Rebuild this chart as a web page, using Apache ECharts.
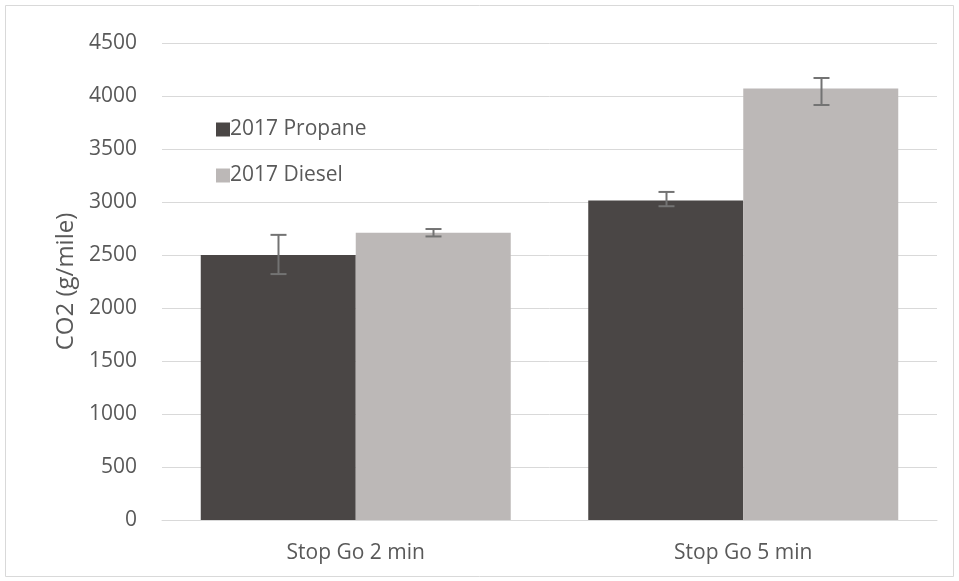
<!DOCTYPE html>
<html>
<head>
<meta charset="utf-8">
<script src="https://cdn.jsdelivr.net/npm/echarts@6/dist/echarts.min.js"></script>
<style>
  html, body { margin: 0; padding: 0; background: #ffffff; }
  #chart { width: 959px; height: 581px; }
</style>
</head>
<body>
<div id="chart"></div>
<script>
// Test cycles on the x axis
const categories = ['Stop Go 2 min', 'Stop Go 5 min'];
const seriesNames = ['2017 Propane', '2017 Diesel'];

// CO2 emissions (g/mile)
const propaneValues = [2500, 3015];
const dieselValues = [2710, 4070];

// Error bar bounds (g/mile)
const propaneLow = [2320, 2960];
const propaneHigh = [2690, 3095];
const dieselLow = [2675, 3915];
const dieselHigh = [2745, 4170];

// Value axis ticks
const yMin = 0;
const yMax = 4500;
const yStep = 500;

const COLORS = ['#4a4645', '#bcb8b7'];
const TEXT = '#595959';
const FONT = 'Open Sans';

const chart = echarts.init(document.getElementById('chart'), null, { renderer: 'canvas' });

// Whisker drawn at a bar's position within its category slot
function errorSeries(name, low, high, side) {
  return {
    type: 'custom',
    name: name + ' error',
    z: 5,
    silent: true,
    data: categories.map((c, i) => [i, low[i], high[i]]),
    renderItem: function (params, api) {
      const idx = api.value(0);
      const top = api.coord([idx, api.value(2)]);
      const bot = api.coord([idx, api.value(1)]);
      const slot = api.size([1, 0])[0];
      const x = Math.round(top[0] + side * slot * 0.2) + 0.5;
      const cap = 8;
      const style = { stroke: '#737373', lineWidth: 2, fill: null };
      return {
        type: 'group',
        children: [
          { type: 'line', shape: { x1: x, y1: top[1], x2: x, y2: bot[1] }, style },
          { type: 'line', shape: { x1: x - cap, y1: top[1], x2: x + cap, y2: top[1] }, style },
          { type: 'line', shape: { x1: x - cap, y1: bot[1], x2: x + cap, y2: bot[1] }, style }
        ]
      };
    }
  };
}

const option = {
  animation: false,
  backgroundColor: '#ffffff',
  textStyle: { fontFamily: FONT, color: TEXT },
  graphic: [{
    type: 'rect',
    shape: { x: 5.5, y: 5.5, width: 948, height: 571 },
    style: { fill: null, stroke: '#d9d9d9', lineWidth: 1 },
    silent: true,
    z: -10
  }],
  legend: {
    orient: 'vertical',
    left: 211,
    top: 114,
    itemWidth: 14,
    itemHeight: 14,
    itemGap: 25,
    icon: 'rect',
    data: seriesNames,
    textStyle: { fontFamily: FONT, fontSize: 21, color: TEXT, padding: [0, 0, 0, -5] }
  },
  grid: { left: 162, right: 22, top: 43, bottom: 61, containLabel: false },
  xAxis: {
    type: 'category',
    data: categories,
    axisLine: { show: true, lineStyle: { color: '#d9d9d9', width: 1 } },
    axisTick: { show: false },
    axisLabel: { fontFamily: FONT, fontSize: 21, color: TEXT, margin: 23 },
    splitLine: { show: false }
  },
  yAxis: {
    type: 'value',
    min: yMin,
    max: yMax,
    interval: yStep,
    name: 'CO2 (g/mile)',
    nameLocation: 'middle',
    nameGap: 82,
    nameRotate: 90,
    nameTextStyle: { fontFamily: FONT, fontSize: 24, color: TEXT },
    axisLine: { show: false },
    axisTick: { show: false },
    axisLabel: {
      fontFamily: FONT, fontSize: 21, color: TEXT, margin: 25,
      formatter: v => String(v)
    },
    splitLine: { lineStyle: { color: '#d9d9d9', width: 1 } }
  },
  series: [
    {
      type: 'bar',
      name: seriesNames[0],
      data: propaneValues,
      barGap: '0%',
      barCategoryGap: '20%',
      itemStyle: { color: COLORS[0] }
    },
    {
      type: 'bar',
      name: seriesNames[1],
      data: dieselValues,
      barGap: '0%',
      barCategoryGap: '20%',
      itemStyle: { color: COLORS[1] }
    },
    errorSeries(seriesNames[0], propaneLow, propaneHigh, -1),
    errorSeries(seriesNames[1], dieselLow, dieselHigh, 1)
  ]
};

chart.setOption(option);
</script>
</body>
</html>
